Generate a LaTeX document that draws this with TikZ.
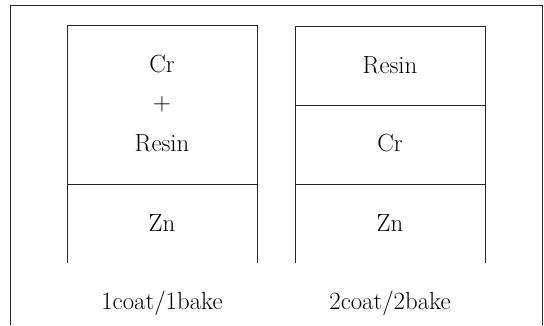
\documentclass[tikz,border=0pt]{standalone}
\begin{document}
\begin{tikzpicture}[x=1pt,y=-1pt,
  edge/.style={line width=0.8pt,black!85},
  lbl/.style={inner sep=0pt,font=\fontsize{24.8}{29}\selectfont}]
\useasboundingbox (0,0) rectangle (544,325);
% outer frame (open at bottom)
\draw[edge] (10,325) -- (10,5) -- (542,5) -- (542,325);
% left stack
\draw[edge] (67,263) -- (67,25) -- (257,25) -- (257,263);
\draw[edge] (67,184) -- (257,184);
% right stack
\draw[edge] (295,263) -- (295,26) -- (485,26) -- (485,263);
\draw[edge] (295,105) -- (485,105);
\draw[edge] (295,184) -- (485,184);
% texts
\node[lbl] (lcr) at (162,64) {Cr};
\node[lbl] (lplus) at (162,104) {+};
\node[lbl] (lres) at (162,143) {Resin};
\node[lbl] (lzn) at (162,223) {Zn};
\node[lbl] (rres) at (390,65) {Resin};
\node[lbl] (rcr) at (390,143) {Cr};
\node[lbl] (rzn) at (390,223) {Zn};
\node[lbl] (cap1) at (162,303) {1coat/1bake};
\node[lbl] (cap2) at (390,303) {2coat/2bake};
\end{tikzpicture}
\end{document}
